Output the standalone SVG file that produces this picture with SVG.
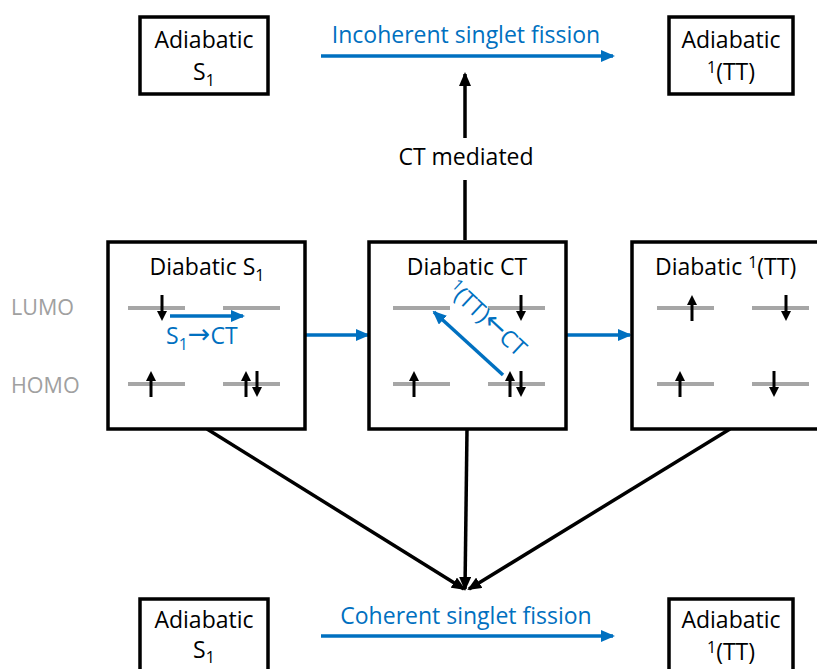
<svg xmlns="http://www.w3.org/2000/svg" width="817" height="669" viewBox="0 0 817 669">
<style>
  .box{fill:#fff;stroke:#000;stroke-width:3.5}
  .t{font-family:"Open Sans","Liberation Sans",sans-serif;font-size:23px;fill:#000}
  .tb{font-family:"Open Sans","Liberation Sans",sans-serif;font-size:23px;fill:#0070c0}
  .tg{font-family:"Open Sans","Liberation Sans",sans-serif;font-size:21.5px;fill:#a0a0a0}
  .ar{font-family:"DejaVu Sans",sans-serif;font-size:27px}
  .lvl{stroke:#a6a6a6;stroke-width:4}
  .bk{stroke:#000;stroke-width:3.5;fill:none}
  .bl{stroke:#0070c0;stroke-width:3.5;fill:none}
</style>
<defs>
  <marker id="ab" viewBox="0 0 14 12" refX="12" refY="6" markerWidth="14" markerHeight="12" markerUnits="userSpaceOnUse" orient="auto"><path d="M0,0 L14,6 L0,12 z" fill="#000"/></marker>
  <marker id="abl" viewBox="0 0 14 12" refX="12" refY="6" markerWidth="14" markerHeight="12" markerUnits="userSpaceOnUse" orient="auto"><path d="M0,0 L14,6 L0,12 z" fill="#0070c0"/></marker>
  <g id="up"><line x1="0" y1="13" x2="0" y2="-4" stroke="#000" stroke-width="3"/><polygon points="-5,-3 5,-3 0,-13" fill="#000"/></g>
  <g id="dn"><line x1="0" y1="-13" x2="0" y2="4" stroke="#000" stroke-width="3"/><polygon points="-5,3 5,3 0,13" fill="#000"/></g>
</defs>

<g id="connectors">
  <line class="bl" x1="321" y1="56" x2="613" y2="56" marker-end="url(#abl)"/>
  <line class="bl" x1="321" y1="636" x2="613" y2="636" marker-end="url(#abl)"/>
  <line class="bk" x1="465" y1="240" x2="465" y2="180"/>
  <line class="bk" x1="465" y1="138" x2="465" y2="74" marker-end="url(#ab)"/>
  <line class="bl" x1="305" y1="335" x2="368" y2="335" marker-end="url(#abl)"/>
  <line class="bl" x1="567" y1="335" x2="630" y2="335" marker-end="url(#abl)"/>
  <line class="bk" x1="207" y1="429" x2="464" y2="589" marker-end="url(#ab)"/>
  <line class="bk" x1="467" y1="429" x2="465" y2="589" marker-end="url(#ab)"/>
  <line class="bk" x1="730" y1="429" x2="469" y2="589" marker-end="url(#ab)"/>
</g>

<g id="label-incoherent"><text class="tb" x="466" y="43" text-anchor="middle">Incoherent singlet fission</text></g>
<g id="label-ct-mediated"><text class="t" x="466" y="165" text-anchor="middle">CT mediated</text></g>
<g id="label-coherent"><text class="tb" x="466" y="624" text-anchor="middle">Coherent singlet fission</text></g>
<g id="label-lumo"><text class="tg" x="11" y="315">LUMO</text></g>
<g id="label-homo"><text class="tg" x="11" y="393">HOMO</text></g>

<g id="adiabatic-s1-top">
  <rect class="box" x="140" y="17" width="128" height="77"/>
  <text class="t" x="204" y="48" text-anchor="middle">Adiabatic</text>
  <text class="t" x="204" y="80" text-anchor="middle">S<tspan font-size="16" dy="6">1</tspan></text>
</g>
<g id="adiabatic-tt-top">
  <rect class="box" x="669" y="17" width="124" height="77"/>
  <text class="t" x="731" y="48" text-anchor="middle">Adiabatic</text>
  <text class="t" x="731" y="80" text-anchor="middle"><tspan font-size="16" dy="-7">1</tspan><tspan dy="7">(TT)</tspan></text>
</g>
<g id="adiabatic-s1-bottom">
  <rect class="box" x="140" y="599" width="128" height="85"/>
  <text class="t" x="204" y="628" text-anchor="middle">Adiabatic</text>
  <text class="t" x="204" y="658" text-anchor="middle">S<tspan font-size="16" dy="5">1</tspan></text>
</g>
<g id="adiabatic-tt-bottom">
  <rect class="box" x="669" y="599" width="124" height="85"/>
  <text class="t" x="731" y="628" text-anchor="middle">Adiabatic</text>
  <text class="t" x="731" y="660" text-anchor="middle"><tspan font-size="16" dy="-7">1</tspan><tspan dy="7">(TT)</tspan></text>
</g>

<g id="diabatic-s1">
  <rect class="box" x="108" y="242" width="197" height="187"/>
  <text class="t" x="207" y="275" text-anchor="middle">Diabatic S<tspan font-size="16" dy="6">1</tspan></text>
  <line class="lvl" x1="128" y1="308" x2="185" y2="308"/>
  <line class="lvl" x1="223" y1="308" x2="280" y2="308"/>
  <line class="lvl" x1="128" y1="384" x2="185" y2="384"/>
  <line class="lvl" x1="223" y1="384" x2="280" y2="384"/>
  <use href="#dn" x="162" y="308"/>
  <use href="#up" x="151" y="384"/>
  <use href="#up" x="246" y="384"/>
  <use href="#dn" x="257" y="384"/>
  <line class="bl" x1="170" y1="316" x2="243" y2="316" marker-end="url(#abl)"/>
  <text class="tb" x="166" y="344">S<tspan font-size="16" dy="6">1</tspan><tspan class="ar" dy="-7">→</tspan><tspan dy="1">CT</tspan></text>
</g>

<g id="diabatic-ct">
  <rect class="box" x="369" y="242" width="197" height="187"/>
  <text class="t" x="467" y="275" text-anchor="middle">Diabatic CT</text>
  <line class="lvl" x1="393" y1="308" x2="450" y2="308"/>
  <line class="lvl" x1="488" y1="308" x2="545" y2="308"/>
  <line class="lvl" x1="393" y1="384" x2="450" y2="384"/>
  <line class="lvl" x1="488" y1="384" x2="545" y2="384"/>
  <use href="#dn" x="521" y="308"/>
  <use href="#up" x="414" y="384"/>
  <use href="#up" x="510" y="384"/>
  <use href="#dn" x="521" y="384"/>
  <line class="bl" x1="503" y1="375" x2="434" y2="312" marker-end="url(#abl)"/>
  <text class="tb" font-size="24" transform="translate(446,291) rotate(43)"><tspan font-size="16" dy="-7">1</tspan><tspan dy="7">(TT)</tspan><tspan class="ar" dy="-1">←</tspan><tspan dy="1">CT</tspan></text>
</g>

<g id="diabatic-tt">
  <rect class="box" x="632" y="242" width="200" height="187"/>
  <text class="t" x="655" y="275">Diabatic <tspan font-size="16" dy="-7">1</tspan><tspan dy="7">(TT)</tspan></text>
  <line class="lvl" x1="657" y1="308" x2="714" y2="308"/>
  <line class="lvl" x1="752" y1="308" x2="809" y2="308"/>
  <line class="lvl" x1="657" y1="384" x2="714" y2="384"/>
  <line class="lvl" x1="752" y1="384" x2="809" y2="384"/>
  <use href="#up" x="692" y="308"/>
  <use href="#dn" x="786" y="308"/>
  <use href="#up" x="680" y="384"/>
  <use href="#dn" x="774" y="384"/>
</g>
</svg>
